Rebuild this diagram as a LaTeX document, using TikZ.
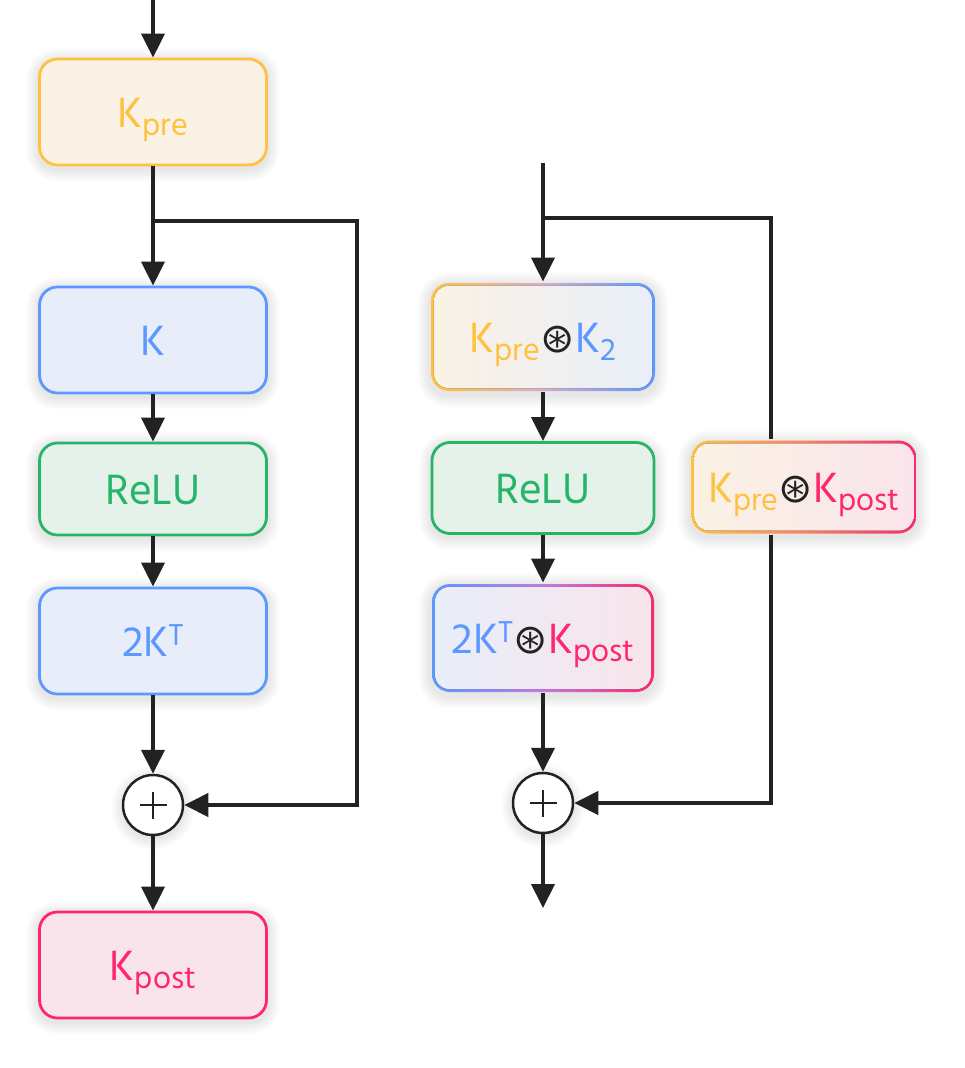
\documentclass[tikz,border=0pt]{standalone}
\usepackage{fontspec}
\setmainfont{Hind Siliguri}
\newfontfamily\symf{DejaVu Sans}
\usetikzlibrary{arrows.meta,backgrounds,calc}
\definecolor{cY}{RGB}{255,193,64}
\definecolor{cYf}{RGB}{250,242,228}
\definecolor{cB}{RGB}{92,152,255}
\definecolor{cBf}{RGB}{232,238,249}
\definecolor{cG}{RGB}{38,180,104}
\definecolor{cGf}{RGB}{228,242,234}
\definecolor{cP}{RGB}{255,38,108}
\definecolor{cPf}{RGB}{249,228,235}
\definecolor{cA}{RGB}{34,34,34}
\definecolor{cYB}{RGB}{212,174,200}
\definecolor{cBP}{RGB}{196,122,228}
\definecolor{cYP}{RGB}{255,128,92}
\newcommand{\sbx}[1]{\raisebox{-0.2em}{\fontsize{32}{32}\selectfont #1}}
\newcommand{\spx}[1]{\raisebox{0.24em}{\fontsize{31}{31}\selectfont #1}}
\newcommand{\ostar}{\kern0.01em\raisebox{0.0em}{\fontsize{41}{41}\selectfont\symf\color{cA}⊛}\kern0.01em}
\tikzset{
  box/.style={rounded corners=18pt, minimum width=227pt, minimum height=106pt,
    line width=2.8pt, inner sep=0pt, text height=30pt, text depth=0pt,
    font=\fontsize{43.5}{50}\selectfont},
  gbox/.style n args={4}{box, draw=none, left color=#1, right color=#2, middle color=#3,
    path picture={\fill[rounded corners=15pt, left color=#4]
      ([shift={(2.8pt,-2.8pt)}]path picture bounding box.north west) rectangle
      ([shift={(-2.8pt,2.8pt)}]path picture bounding box.south east);}},
  ybox/.style={box, draw=cY, fill=cYf, text=cY},
  bbox/.style={box, draw=cB, fill=cBf, text=cB},
  grbox/.style={box, draw=cG, fill=cGf, text=cG},
  pbox/.style={box, draw=cP, fill=cPf, text=cP},
  plusnode/.style={circle, draw=cA, line width=2.5pt, fill=white, minimum size=60pt, inner sep=0pt,
    path picture={\draw[line width=1.6pt, cA]
      ([xshift=-13.5pt]path picture bounding box.center) -- ([xshift=13.5pt]path picture bounding box.center)
      ([yshift=-13.5pt]path picture bounding box.center) -- ([yshift=13.5pt]path picture bounding box.center);}},
  ln/.style={draw=cA, line width=4pt},
  arr/.style={ln, -{Triangle[length=24pt,width=23pt]}},
  shlayer/.style={fill=black, fill opacity=0.009, rounded corners=#1},
}
\begin{document}
\begin{tikzpicture}[x=1pt,y=-1pt]
\useasboundingbox (0,0) rectangle (964,1068);
% left column
\node[ybox] (kpre) at (153,112) {K\sbx{pre}};
\node[bbox] (k) at (153,340) {K};
\node[grbox, minimum height=92pt] (relu1) at (153,489) {ReLU};
\node[bbox] (kt) at (153,641) {2K\spx{T}};
\node[plusnode] (plus1) at (153,805) {};
\node[pbox] (kpost) at (153,965) {K\sbx{post}};
\coordinate (top1) at (153,0);
\coordinate (br1) at (153,221);
\coordinate (c1) at (357,221);
\draw[arr] (top1) -- (kpre);
\draw[arr] (kpre) -- (k);
\draw[arr] (k) -- (relu1);
\draw[arr] (relu1) -- (kt);
\draw[arr] (kt) -- (plus1);
\draw[arr] (plus1) -- (kpost);
\draw[arr] (br1) -- (c1) |- (plus1);
% right column
\node[gbox={cY}{cB}{cYB}{cYf,right color=cBf}, minimum width=224pt, minimum height=108pt] (kk2) at (543,337)
  {{\color{cY}K\sbx{pre}}\ostar{\color{cB}K\sbx{2}}};
\node[grbox, minimum width=222pt, minimum height=91pt] (relu2) at (543,488) {ReLU};
\node[gbox={cB}{cP}{cBP}{cBf,right color=cPf}, minimum width=222pt, minimum height=108pt] (ktp) at (543,638)
  {{\color{cB}2K\spx{T}}\ostar{\color{cP}K\sbx{post}}};
\node[plusnode] (plus2) at (543,803) {};
\node[gbox={cY}{cP}{cYP}{cYf,right color=cPf}, minimum width=225pt, minimum height=93pt] (kpkp) at (804,487)
  {{\color{cY}K\sbx{pre}}\ostar{\color{cP}K\sbx{post}}};
\coordinate (top2) at (543,163);
\coordinate (br2) at (543,218);
\coordinate (c2) at (771,218);
\coordinate (end2) at (543,908);
\draw[arr] (top2) -- (kk2);
\draw[arr] (kk2) -- (relu2);
\draw[arr] (relu2) -- (ktp);
\draw[arr] (ktp) -- (plus2);
\draw[arr] (plus2) -- (end2);
\draw[ln] (br2) -- (c2) -- (c2 |- kpkp.north);
\draw[arr] (c2 |- kpkp.south) |- (plus2);
% soft shadows
\begin{scope}[on background layer]
\fill[white] (0,0) rectangle (964,1068);
\foreach \n in {kpre,k,relu1,kt,kpost,kk2,relu2,ktp,kpkp}{
  \foreach \i in {1,...,12}{
    \fill[shlayer=18pt+\i*1pt] ([shift={(-\i*1pt,-\i*1pt-3pt)}]\n.south west) rectangle ([shift={(\i*1pt,\i*1pt-3pt)}]\n.north east);
  }
}
\foreach \n in {plus1,plus2}{
  \foreach \i in {1,...,12}{
    \fill[black, fill opacity=0.009] ([yshift=-3pt]\n.center) circle[radius=30pt+\i*1pt];
  }
}
\end{scope}
\end{tikzpicture}
\end{document}
